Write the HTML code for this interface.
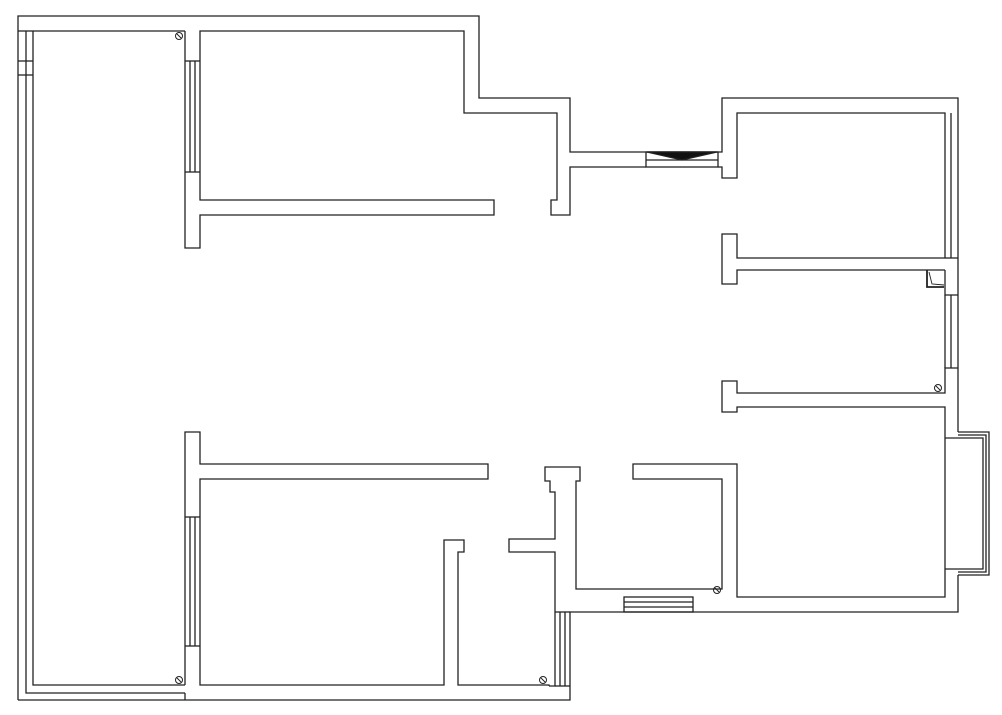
<!DOCTYPE html>
<html><head><style>html,body{margin:0;padding:0;background:#fff}svg{display:block}</style></head>
<body>
<svg width="1002" height="715" viewBox="0 0 1002 715" xmlns="http://www.w3.org/2000/svg">
<g fill="none" stroke="#222" stroke-width="1.3">
<!-- outer boundary -->
<polyline points="18,700 18,16 479,16 479,98 570,98 570,152 722,152 722,98 958,98 958,432"/>
<polyline points="958,575 958,612 570,612 570,700 18,700"/>
<!-- left double wall -->
<polyline points="26,31 26,693 185,693"/>
<polyline points="33,31 33,685 185,685"/>
<line x1="18" y1="31" x2="33" y2="31"/>
<line x1="18" y1="61" x2="33" y2="61"/><line x1="18" y1="75" x2="33" y2="75"/>
<!-- top-left room -->
<line x1="33" y1="31" x2="185" y2="31"/>
<polyline points="185,31 185,248 200,248 200,215 494,215 494,200 200,200 200,31 464,31 464,113 557,113 557,200 551,200 551,215 570,215 570,167 646,167"/>
<line x1="190" y1="61" x2="190" y2="172"/><line x1="195" y1="61" x2="195" y2="172"/>
<line x1="185" y1="61" x2="200" y2="61"/><line x1="185" y1="172" x2="200" y2="172"/>
<!-- entry window -->
<rect x="646" y="152" width="72" height="15"/>
<line x1="646" y1="160" x2="718" y2="160"/>
<polygon points="647,152 682,160 717,152" fill="#111"/>
<polyline points="718,167 722,167 722,178 737,178 737,113 945,113 945,258 737,258 737,234 722,234 722,284 737,284 737,270 945,270"/>
<line x1="951" y1="113" x2="951" y2="258"/>
<line x1="945" y1="258" x2="958" y2="258"/>
<polyline points="945,270 945,295 958,295"/>
<line x1="945" y1="295" x2="945" y2="368"/><line x1="951" y1="295" x2="951" y2="368"/>
<polyline points="958,368 945,368 945,393 737,393 737,381 722,381 722,412 737,412 737,407 945,407 945,597 737,597 737,464 633,464 633,479 722,479 722,589 576,589 576,481 580,481 580,467 545,467 545,481 550,481 550,492 555,492 555,539 509,539 509,552 555,552 555,686 549,686"/>
<!-- door swing icon -->
<polyline points="927,270 927,287 944,287" stroke-width="1.8"/>
<polyline points="929,272 932,284 944,285" stroke-width="0.9"/>
<!-- balcony -->
<polyline points="945,438 983,438 983,569 945,569"/>
<polyline points="958,435 986,435 986,572 958,572"/>
<polyline points="958,432 989,432 989,575 958,575"/>
<!-- bottom window in middle room -->
<rect x="624" y="597" width="69" height="15"/>
<line x1="624" y1="602" x2="693" y2="602"/><line x1="624" y1="607" x2="693" y2="607"/>
<!-- bath window vertical -->
<line x1="560" y1="612" x2="560" y2="686"/><line x1="565" y1="612" x2="565" y2="686"/>
<line x1="555" y1="612" x2="570" y2="612"/><line x1="555" y1="686" x2="570" y2="686"/>
<!-- bottom left rooms -->
<polyline points="185,685 185,432 200,432 200,464 488,464 488,479 200,479 200,685 444,685 444,540 464,540 464,552 458,552 458,685 549,685 549,686"/>
<line x1="190" y1="517" x2="190" y2="646"/><line x1="195" y1="517" x2="195" y2="646"/>
<line x1="185" y1="517" x2="200" y2="517"/><line x1="185" y1="646" x2="200" y2="646"/>
<line x1="185" y1="693" x2="185" y2="700"/>
</g>
<g fill="none" stroke="#222" stroke-width="1">
<circle cx="179" cy="36" r="3.5"/><line x1="177" y1="34" x2="181" y2="38"/>
<circle cx="179" cy="680" r="3.5"/><line x1="177" y1="678" x2="181" y2="682"/>
<circle cx="543" cy="680" r="3.5"/><line x1="541" y1="678" x2="545" y2="682"/>
<circle cx="717" cy="590" r="3.5"/><line x1="715" y1="588" x2="719" y2="592"/>
<circle cx="938" cy="388" r="3.5"/><line x1="936" y1="386" x2="940" y2="390"/>
</g>
</svg>
</body></html>
